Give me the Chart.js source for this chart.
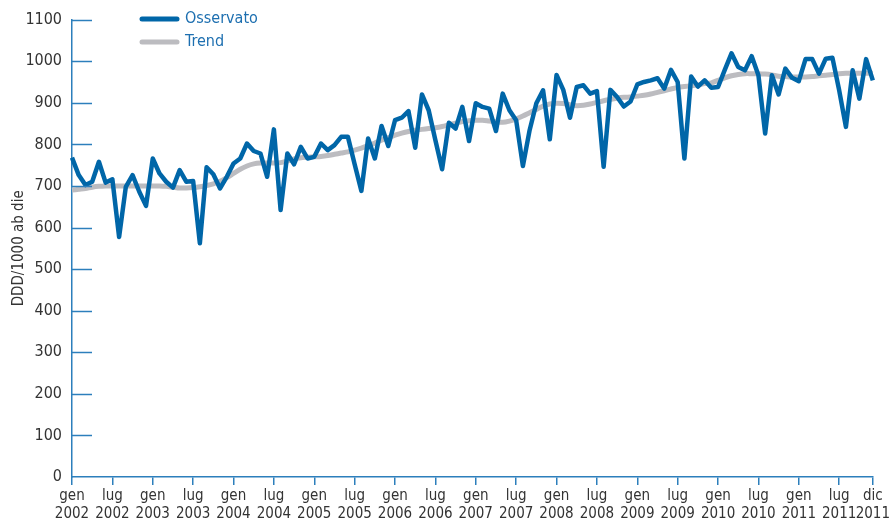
<!DOCTYPE html>
<html>
<head>
<meta charset="utf-8">
<script src="https://cdn.jsdelivr.net/npm/chart.js@4"></script>
<style>
  html, body { margin: 0; padding: 0; background: #fff; }
  #wrap { width: 892px; height: 528px; position: relative; }
</style>
</head>
<body>
<div id="wrap"><canvas id="myChart"></canvas></div>
<script>
// mesi e anni sull'asse x
const mesi = ['gen', 'feb', 'mar', 'apr', 'mag', 'giu', 'lug', 'ago', 'set', 'ott', 'nov', 'dic'];
const anni = [2002, 2003, 2004, 2005, 2006, 2007, 2008, 2009, 2010, 2011];

// DDD/1000 ab die osservato, gen 2002 - dic 2011
const osservato = [
  768, 726, 702, 710, 758, 708, 716, 577, 698, 726, 686, 652,
  766, 730, 710, 696, 738, 710, 712, 562, 745, 728, 694, 722,
  754, 766, 802, 784, 778, 722, 836, 642, 778, 752, 794, 766,
  770, 802, 786, 798, 818, 818, 752, 688, 814, 766, 844, 796,
  858, 864, 880, 792, 920, 882, 810, 740, 852, 838, 890, 808,
  899, 890, 886, 832, 922, 882, 858, 748, 834, 899, 930, 812,
  967, 931, 864, 938, 942, 922, 928, 746, 931, 914, 891, 903,
  944, 950, 954, 959, 934, 979, 950, 766, 963, 939, 954, 936,
  938, 979, 1019, 986, 978, 1012, 966, 826, 966, 920, 982, 960,
  952, 1005, 1005, 970, 1006, 1008, 930, 842, 978, 910, 1005, 954
];

// trend
const trend = [
  690, 692, 694, 697, 699, 700, 700, 700, 700, 700, 700, 700,
  700, 700, 699, 697, 695, 695, 696, 698, 701, 705, 711, 720,
  730, 740, 748, 753, 755, 755, 755, 756, 760, 765, 768, 769,
  770, 771, 773, 776, 779, 782, 786, 791, 797, 803, 810, 816,
  822, 827, 831, 834, 836, 838, 840, 843, 847, 851, 855, 857,
  858, 858, 856, 854, 853, 856, 861, 868, 876, 884, 892, 897,
  899, 898, 895, 893, 894, 897, 901, 905, 908, 911, 913, 914,
  916, 918, 921, 925, 929, 933, 937, 939, 941, 943, 946, 948,
  954, 960, 965, 968, 970, 970, 970, 969, 967, 964, 963, 962,
  962, 962, 963, 965, 966, 968, 970, 971, 971, 971, 971, 971
];

const yTicks = { min: 0, max: 1100, step: 100 };

const etichette = [];
anni.forEach(a => mesi.forEach(m => etichette.push([m, String(a)])));

const BLU = '#0066a8';
const GRIGIO = '#bcbcc0';
const ASSE = '#2c7fbc';
const TESTO = '#333333';
const FONT = "'DejaVu Sans Condensed', 'DejaVu Sans', sans-serif";

// legenda disegnata a mano e tacche interne dell'asse y
const extraPlugin = {
  id: 'extra',
  afterDraw(chart) {
    const ctx = chart.ctx;
    const y = chart.scales.y;
    const left = chart.chartArea.left;
    ctx.save();
    ctx.strokeStyle = ASSE;
    ctx.lineWidth = 1.5;
    y.ticks.forEach(t => {
      if (t.value === 0) return;
      const py = Math.round(y.getPixelForValue(t.value)) + 0.5;
      ctx.beginPath();
      ctx.moveTo(left, py);
      ctx.lineTo(left + 20, py);
      ctx.stroke();
    });

    const voci = [
      { testo: 'Osservato', colore: BLU, y: 19 },
      { testo: 'Trend', colore: GRIGIO, y: 42 }
    ];
    ctx.lineCap = 'round';
    ctx.font = '16px ' + FONT;
    ctx.textBaseline = 'middle';
    voci.forEach(v => {
      ctx.strokeStyle = v.colore;
      ctx.lineWidth = 5;
      ctx.beginPath();
      ctx.moveTo(142, v.y);
      ctx.lineTo(177, v.y);
      ctx.stroke();
      ctx.fillStyle = '#1d6fb0';
      ctx.fillText(v.testo, 185, v.y);
    });
    ctx.restore();
  }
};

const ctx = document.getElementById('myChart').getContext('2d');
const myChart = new Chart(ctx, {
  type: 'line',
  data: {
    labels: etichette,
    datasets: [
      {
        label: 'Osservato',
        data: osservato,
        borderColor: BLU,
        backgroundColor: BLU,
        borderWidth: 4.5,
        borderJoinStyle: 'round',
        pointRadius: 0,
        tension: 0,
        fill: false
      },
      {
        label: 'Trend',
        data: trend,
        borderColor: GRIGIO,
        backgroundColor: GRIGIO,
        borderWidth: 5,
        borderJoinStyle: 'round',
        pointRadius: 0,
        tension: 0.3,
        fill: false
      }
    ]
  },
  options: {
    responsive: true,
    maintainAspectRatio: false,
    animation: false,
    layout: { padding: { top: 19, right: 19, left: 0, bottom: 0 } },
    plugins: {
      legend: { display: false },
      tooltip: { enabled: false }
    },
    scales: {
      x: {
        offset: false,
        afterFit(scale) { scale.height = 51; },
        border: { color: ASSE, width: 1.5 },
        grid: {
          drawOnChartArea: false,
          drawTicks: true,
          tickLength: 8,
          color: ASSE,
          lineWidth: 1.5
        },
        ticks: {
          autoSkip: false,
          maxRotation: 0,
          minRotation: 0,
          padding: 2,
          color: TESTO,
          font: { family: FONT, size: 15 },
          callback: function (val, index) {
            if (index % 6 === 0 || index === etichette.length - 1) return etichette[index];
            return null;
          }
        }
      },
      y: {
        min: yTicks.min,
        max: yTicks.max,
        afterFit(scale) { scale.width = 72; },
        border: { color: ASSE, width: 1.5 },
        grid: { drawOnChartArea: false, drawTicks: false },
        ticks: {
          stepSize: yTicks.step,
          padding: 10,
          color: TESTO,
          font: { family: FONT, size: 16 },
          callback: v => String(v)
        },
        title: {
          display: true,
          text: 'DDD/1000 ab die',
          color: TESTO,
          font: { family: FONT, size: 15 },
          padding: { top: 10, bottom: 0 }
        }
      }
    }
  },
  plugins: [extraPlugin]
});
</script>
</body>
</html>
